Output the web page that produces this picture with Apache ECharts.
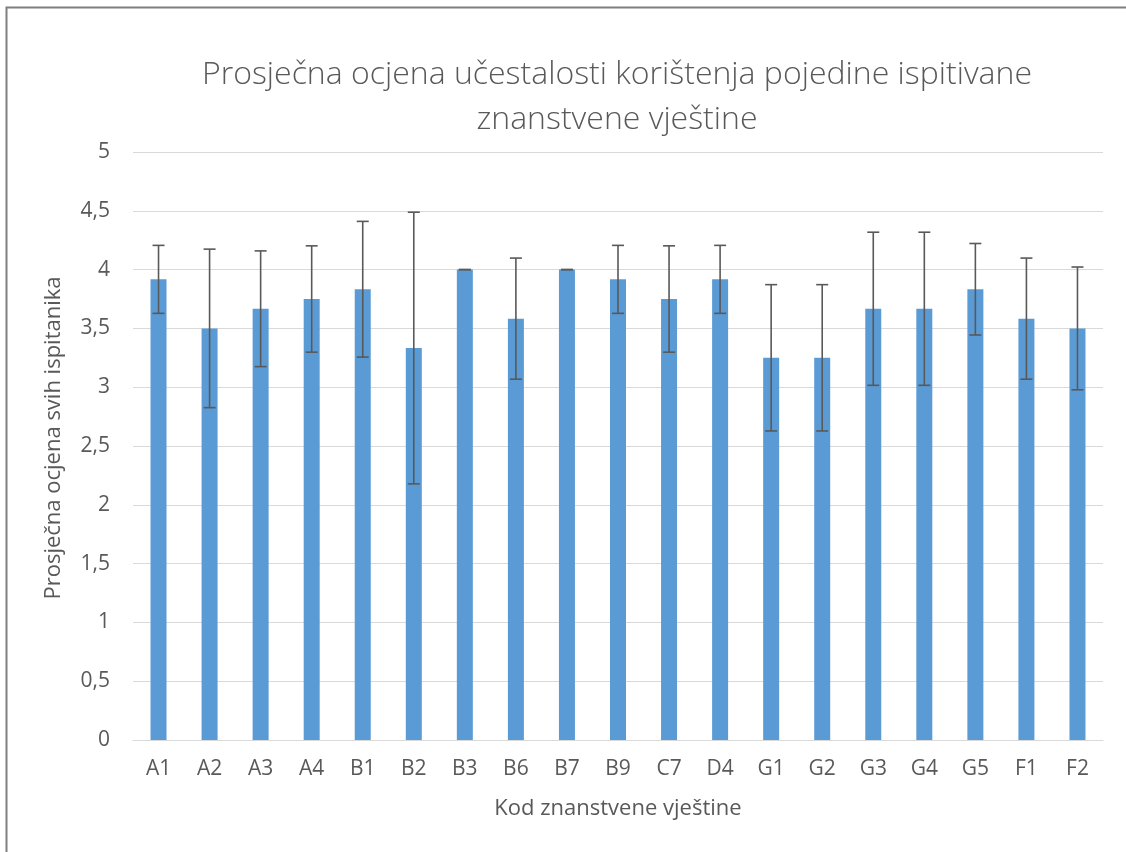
<!DOCTYPE html>
<html>
<head>
<meta charset="utf-8">
<script src="https://cdn.jsdelivr.net/npm/echarts@6/dist/echarts.min.js"></script>
<style>
html,body{margin:0;padding:0;background:#fff;}
#chart{width:1126px;height:852px;}
</style>
</head>
<body>
<div id="chart"></div>
<script>
const categories = ['A1','A2','A3','A4','B1','B2','B3','B6','B7','B9','C7','D4','G1','G2','G3','G4','G5','F1','F2'];
const means = [3.917,3.5,3.667,3.75,3.833,3.333,4.0,3.583,4.0,3.917,3.75,3.917,3.25,3.25,3.667,3.667,3.833,3.583,3.5];
const errors = [0.289,0.674,0.492,0.452,0.577,1.155,0,0.515,0,0.289,0.452,0.289,0.622,0.622,0.651,0.651,0.389,0.515,0.522];
const yTicks = [0,0.5,1,1.5,2,2.5,3,3.5,4,4.5,5];

const errData = categories.map((c,i)=>[i, means[i]-errors[i], means[i]+errors[i]]);
const FONT = '"Open Sans", sans-serif';

const chart = echarts.init(document.getElementById('chart'), null, {renderer:'canvas'});
chart.setOption({
  backgroundColor:'#fff',
  animation:false,
  title:{
    text:'Prosječna ocjena učestalosti korištenja pojedine ispitivane\nznanstvene vještine',
    left:612, top:47, textAlign:'center',
    textStyle:{fontFamily:FONT, fontWeight:300, fontSize:32, color:'#595959', lineHeight:45}
  },
  graphic:[{type:'rect', shape:{x:6.5,y:7.5,width:1300,height:1000}, style:{fill:'none', stroke:'#7f7f7f', lineWidth:2}, silent:true}],
  grid:{left:133, right:23, top:152, bottom:112, containLabel:false},
  xAxis:{
    type:'category', data:categories,
    axisLine:{lineStyle:{color:'#d9d9d9', width:1}},
    axisTick:{show:false},
    axisLabel:{fontFamily:FONT, fontSize:21, color:'#595959', margin:19},
    name:'Kod znanstvene vještine', nameLocation:'middle', nameGap:58,
    nameTextStyle:{fontFamily:FONT, fontSize:22, color:'#595959'}
  },
  yAxis:{
    type:'value', min:0, max:5, interval:0.5,
    axisLine:{show:false}, axisTick:{show:false},
    splitLine:{lineStyle:{color:'#d9d9d9', width:1}},
    axisLabel:{fontFamily:FONT, fontSize:21, color:'#595959', margin:23,
      formatter:v=>{const t=yTicks.find(x=>Math.abs(x-v)<1e-9); return String(t!==undefined?t:v).replace('.',',');}},
    name:'Prosječna ocjena svih ispitanika', nameLocation:'middle', nameGap:68,
    nameTextStyle:{fontFamily:FONT, fontSize:22, color:'#595959', padding:[0,0,0,16]}
  },
  series:[
    {type:'bar', data:means, barWidth:16, itemStyle:{color:'#5B9BD5'}},
    {type:'custom', data:errData, z:5,
      renderItem:function(params, api){
        const x = api.value(0);
        const lo = api.coord([x, api.value(1)]);
        const hi = api.coord([x, api.value(2)]);
        const hw = 6;
        const st = {stroke:'#595959', lineWidth:1.6};
        return {type:'group', children:[
          {type:'line', shape:{x1:lo[0], y1:lo[1], x2:hi[0], y2:hi[1]}, style:st},
          {type:'line', shape:{x1:lo[0]-hw, y1:lo[1], x2:lo[0]+hw, y2:lo[1]}, style:st},
          {type:'line', shape:{x1:hi[0]-hw, y1:hi[1], x2:hi[0]+hw, y2:hi[1]}, style:st}
        ]};
      }
    }
  ]
});
</script>
</body>
</html>
